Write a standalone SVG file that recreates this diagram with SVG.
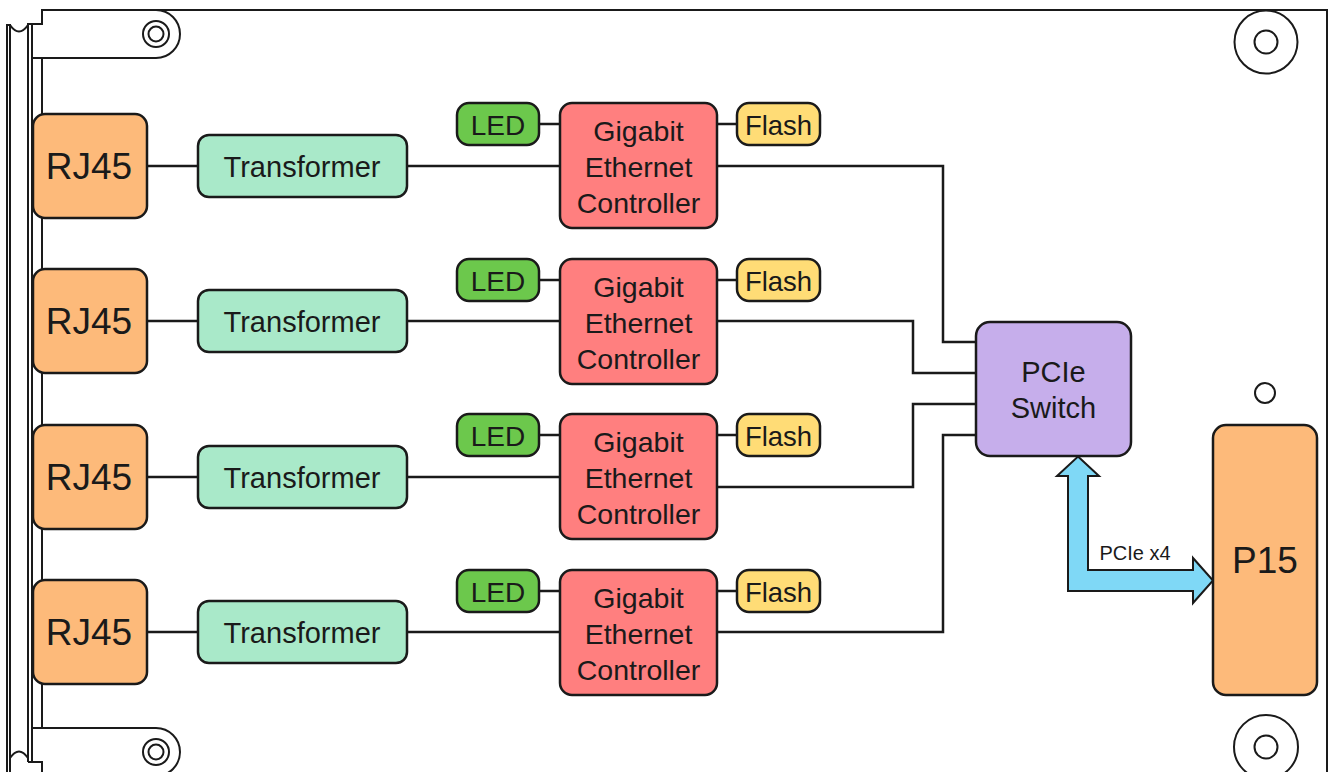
<svg xmlns="http://www.w3.org/2000/svg" width="1334" height="772" viewBox="0 0 1334 772">
<style>
.ol{fill:none;stroke:#1a1a1a;stroke-width:2}
.bx{stroke:#1a1a1a;stroke-width:2.5}
.rj{fill:#FDBA7A}
.tr{fill:#A9E9C9}
.gb{fill:#FF7F7F}
.led{fill:#6CC84C}
.fl{fill:#FFDC76}
.sw{fill:#C6AEEB}
.t{font-family:"Liberation Sans",Arial,sans-serif;fill:#1a1a1a;text-anchor:middle}
.cn{fill:none;stroke:#1a1a1a;stroke-width:2.5}
</style>
<rect width="1334" height="772" fill="#ffffff"/>
<g id="board">
<path class="ol" d="M7,772 V25 H10 V772"/>
<path class="ol" d="M10,25 Q19,38 28,25"/>
<path class="ol" d="M10,758 Q19,745 28,758"/>
<path class="ol" d="M28,762 V24 H42 V10 H1327 V772"/>
<path class="ol" d="M32,24 V762"/>
<path class="ol" d="M28,762 H42 V772"/>
<path class="ol" d="M42,58 V728"/>
<path class="ol" d="M32,58 H156 A24,24 0 0 0 156,10"/>
<path class="ol" d="M32,728 H156 A24,24 0 0 1 156,776"/>
<circle class="ol" cx="156" cy="34" r="13"/>
<circle class="ol" cx="156" cy="34" r="7.5"/>
<circle class="ol" cx="156" cy="752" r="13"/>
<circle class="ol" cx="156" cy="752" r="7.5"/>
<circle class="ol" cx="1266" cy="42" r="31.5"/>
<circle class="ol" cx="1266" cy="42" r="11.5"/>
<circle class="ol" cx="1266" cy="747" r="32"/>
<circle class="ol" cx="1266" cy="747" r="11.5"/>
<circle class="ol" cx="1265" cy="393" r="10"/>
</g>
<g id="connectors">
<path class="cn" d="M147,166 H198 M407,166 H560 M539,124 H560 M717,124 H737 M717,166 H943 V342 H976"/>
<path class="cn" d="M147,321 H198 M407,321 H560 M539,280 H560 M717,280 H737 M717,321 H913 V373 H976"/>
<path class="cn" d="M147,477 H198 M407,477 H560 M539,435 H560 M717,435 H737 M717,487 H913 V404 H976"/>
<path class="cn" d="M147,632 H198 M407,632 H560 M539,591 H560 M717,591 H737 M717,632 H943 V435 H976"/>
<path d="M1078,456.5 L1099,476 L1088,476 L1088,570 L1193,570 L1193,558 L1213,580.5 L1193,603 L1193,591 L1068,591 L1068,476 L1057,476 Z" fill="#7FD8F6" stroke="#1a1a1a" stroke-width="2"/>
<text class="t" x="1135" y="560" font-size="20">PCIe x4</text>
</g>
<g id="rj45-1"><rect class="bx rj" x="33" y="114" width="114" height="104" rx="12"/><text class="t" x="89" y="179" font-size="37">RJ45</text></g>
<g id="rj45-2"><rect class="bx rj" x="33" y="269" width="114" height="104" rx="12"/><text class="t" x="89" y="334" font-size="37">RJ45</text></g>
<g id="rj45-3"><rect class="bx rj" x="33" y="425" width="114" height="104" rx="12"/><text class="t" x="89" y="490" font-size="37">RJ45</text></g>
<g id="rj45-4"><rect class="bx rj" x="33" y="580" width="114" height="104" rx="12"/><text class="t" x="89" y="645" font-size="37">RJ45</text></g>
<g id="transformer-1"><rect class="bx tr" x="198" y="135" width="209" height="62" rx="11"/><text class="t" x="302" y="176.5" font-size="29">Transformer</text></g>
<g id="transformer-2"><rect class="bx tr" x="198" y="290" width="209" height="62" rx="11"/><text class="t" x="302" y="331.5" font-size="29">Transformer</text></g>
<g id="transformer-3"><rect class="bx tr" x="198" y="446" width="209" height="62" rx="11"/><text class="t" x="302" y="487.5" font-size="29">Transformer</text></g>
<g id="transformer-4"><rect class="bx tr" x="198" y="601" width="209" height="62" rx="11"/><text class="t" x="302" y="642.5" font-size="29">Transformer</text></g>
<g id="gbe-1"><rect class="bx gb" x="560" y="103" width="157" height="125" rx="12"/><text class="t" font-size="28.5"><tspan x="638.5" y="141">Gigabit</tspan><tspan x="638.5" y="177">Ethernet</tspan><tspan x="638.5" y="213">Controller</tspan></text></g>
<g id="gbe-2"><rect class="bx gb" x="560" y="259" width="157" height="125" rx="12"/><text class="t" font-size="28.5"><tspan x="638.5" y="297">Gigabit</tspan><tspan x="638.5" y="333">Ethernet</tspan><tspan x="638.5" y="369">Controller</tspan></text></g>
<g id="gbe-3"><rect class="bx gb" x="560" y="414" width="157" height="125" rx="12"/><text class="t" font-size="28.5"><tspan x="638.5" y="452">Gigabit</tspan><tspan x="638.5" y="488">Ethernet</tspan><tspan x="638.5" y="524">Controller</tspan></text></g>
<g id="gbe-4"><rect class="bx gb" x="560" y="570" width="157" height="125" rx="12"/><text class="t" font-size="28.5"><tspan x="638.5" y="608">Gigabit</tspan><tspan x="638.5" y="644">Ethernet</tspan><tspan x="638.5" y="680">Controller</tspan></text></g>
<g id="led-1"><rect class="bx led" x="457" y="103" width="82" height="42" rx="12"/><text class="t" x="498" y="134.5" font-size="28">LED</text></g>
<g id="led-2"><rect class="bx led" x="457" y="259" width="82" height="42" rx="12"/><text class="t" x="498" y="290.5" font-size="28">LED</text></g>
<g id="led-3"><rect class="bx led" x="457" y="414" width="82" height="42" rx="12"/><text class="t" x="498" y="445.5" font-size="28">LED</text></g>
<g id="led-4"><rect class="bx led" x="457" y="570" width="82" height="42" rx="12"/><text class="t" x="498" y="601.5" font-size="28">LED</text></g>
<g id="flash-1"><rect class="bx fl" x="737" y="103" width="83" height="42" rx="12"/><text class="t" x="778.5" y="134.5" font-size="27.5">Flash</text></g>
<g id="flash-2"><rect class="bx fl" x="737" y="259" width="83" height="42" rx="12"/><text class="t" x="778.5" y="290.5" font-size="27.5">Flash</text></g>
<g id="flash-3"><rect class="bx fl" x="737" y="414" width="83" height="42" rx="12"/><text class="t" x="778.5" y="445.5" font-size="27.5">Flash</text></g>
<g id="flash-4"><rect class="bx fl" x="737" y="570" width="83" height="42" rx="12"/><text class="t" x="778.5" y="601.5" font-size="27.5">Flash</text></g>
<g id="pcie-switch"><rect class="bx sw" x="976" y="322" width="155" height="134" rx="14"/><text class="t" font-size="29"><tspan x="1053.5" y="382">PCIe</tspan><tspan x="1053.5" y="418">Switch</tspan></text></g>
<g id="p15"><rect class="bx rj" x="1213" y="425" width="104" height="270" rx="13"/><text class="t" x="1265" y="573" font-size="37">P15</text></g>
</svg>
